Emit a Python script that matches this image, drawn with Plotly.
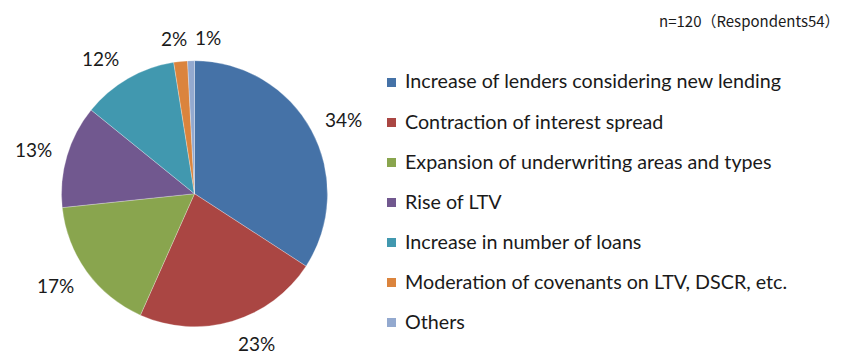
import math
import plotly.graph_objects as go

# Survey responses (n=120, 54 respondents)
labels = [
    "Increase of lenders considering new lending",
    "Contraction of interest spread",
    "Expansion of underwriting areas and types",
    "Rise of LTV",
    "Increase in number of loans",
    "Moderation of covenants on LTV, DSCR, etc.",
    "Others",
]
counts = [41, 27, 20, 15, 14, 2, 1]
colors = ["#4572A7", "#AA4643", "#89A54E", "#71588F", "#4198AF", "#DB843D", "#93A9CF"]
note = "n=120（Respondents54）"

W, H = 843, 356
TEXT = "#1a1a1a"
FONT = "Lato, sans-serif"

# pie placement in pixels (centre and radius)
CX, CY, R = 194.5, 193.7, 133.0

fig = go.Figure()
fig.add_trace(go.Pie(
    labels=labels,
    values=counts,
    sort=False,
    direction="clockwise",
    rotation=0,
    marker=dict(colors=colors, line=dict(color="rgba(255,255,255,0.45)", width=0.6)),
    textinfo="none",
    domain=dict(x=[(CX - R) / W, (CX + R) / W], y=[1 - (CY + R) / H, 1 - (CY - R) / H]),
    showlegend=False,
    hoverinfo="label+percent",
))

annotations, shapes = [], []

# Percentage labels just outside each slice, pushed away from the pie
total = sum(counts)
LBL_SIZE = 19
GAP = 14      # distance from the rim
HALF_H = 9    # vertical push
boxes = []
cum = 0
for c in counts:
    mid = (cum + c / 2) / total * 2 * math.pi
    cum += c
    pct = int(math.floor(c / total * 100 + 0.5))
    txt = f"{pct}%"
    w = len(str(pct)) * 12 + 16
    h = 16
    dx, dy = math.sin(mid), -math.cos(mid)
    bx = CX + (R + GAP) * dx + w / 2 * max(-1.0, min(1.0, 3.5 * dx))
    by = CY + (R + GAP + HALF_H) * dy
    # slide sideways when a label would sit on an earlier one
    for (ox, oy, ow, oh) in boxes:
        if abs(bx - ox) < (w + ow) / 2 + 4 and abs(by - oy) < (h + oh) / 2:
            bx = ox + (w + ow) / 2 + 5.5
    boxes.append((bx, by, w, h))
    annotations.append(dict(
        text=txt, xref="paper", yref="paper", x=bx / W, y=1 - by / H,
        xanchor="center", yanchor="middle", showarrow=False,
        font=dict(family=FONT, size=LBL_SIZE, color=TEXT),
    ))

# Hand-built legend with wide row spacing
row0, gap = 78, 40
for i, (lab, col) in enumerate(zip(labels, colors)):
    yc = row0 + i * gap
    shapes.append(dict(
        type="rect", xref="paper", yref="paper",
        x0=387 / W, x1=396 / W, y0=1 - (yc + 9) / H, y1=1 - yc / H,
        fillcolor=col, line=dict(width=0),
    ))
    annotations.append(dict(
        text=lab, xref="paper", yref="paper", x=403 / W, y=1 - (yc + 3) / H,
        xanchor="left", yanchor="middle", showarrow=False,
        font=dict(family=FONT, size=19.7, color=TEXT),
    ))

annotations.append(dict(
    text=note, xref="paper", yref="paper", x=842 / W, y=1 - 20 / H,
    xanchor="right", yanchor="middle", showarrow=False,
    font=dict(family="Noto Sans CJK JP, sans-serif", size=15, color=TEXT),
))

fig.update_layout(
    width=W, height=H,
    margin=dict(l=0, r=0, t=0, b=0),
    paper_bgcolor="white", plot_bgcolor="white",
    shapes=shapes, annotations=annotations,
)

fig.write_html("out.html")
